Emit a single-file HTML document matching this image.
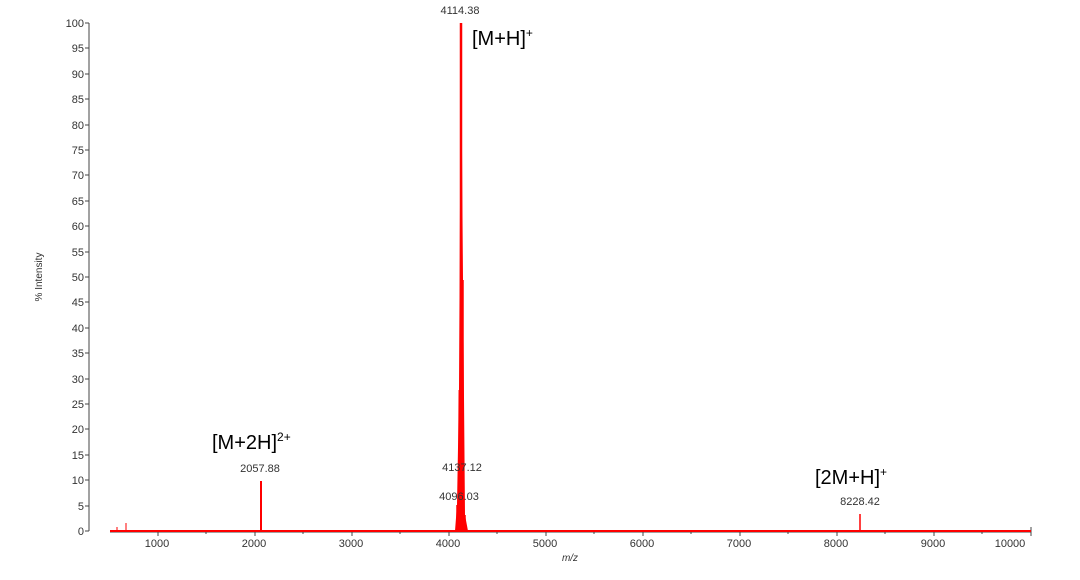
<!DOCTYPE html>
<html><head><meta charset="utf-8"><style>
body{margin:0;background:#fff;}
svg text{font-family:"Liberation Sans",sans-serif;}
</style></head><body>
<svg width="1080" height="575" xmlns="http://www.w3.org/2000/svg">
<g font-size="11" fill="#333" text-anchor="end">
<line x1="89" y1="23" x2="89" y2="531" stroke="#444"/>
<text x="84" y="535">0</text><text x="84" y="510">5</text><text x="84" y="484">10</text><text x="84" y="459">15</text><text x="84" y="433">20</text><text x="84" y="408">25</text><text x="84" y="383">30</text><text x="84" y="357">35</text><text x="84" y="332">40</text><text x="84" y="306">45</text><text x="84" y="281">50</text><text x="84" y="256">55</text><text x="84" y="230">60</text><text x="84" y="205">65</text><text x="84" y="179">70</text><text x="84" y="154">75</text><text x="84" y="129">80</text><text x="84" y="103">85</text><text x="84" y="78">90</text><text x="84" y="52">95</text><text x="84" y="27">100</text>
</g>
<g stroke="#444">
<line x1="85" y1="531" x2="89" y2="531"/><line x1="85" y1="506" x2="89" y2="506"/><line x1="85" y1="480" x2="89" y2="480"/><line x1="85" y1="455" x2="89" y2="455"/><line x1="85" y1="429" x2="89" y2="429"/><line x1="85" y1="404" x2="89" y2="404"/><line x1="85" y1="379" x2="89" y2="379"/><line x1="85" y1="353" x2="89" y2="353"/><line x1="85" y1="328" x2="89" y2="328"/><line x1="85" y1="302" x2="89" y2="302"/><line x1="85" y1="277" x2="89" y2="277"/><line x1="85" y1="252" x2="89" y2="252"/><line x1="85" y1="226" x2="89" y2="226"/><line x1="85" y1="201" x2="89" y2="201"/><line x1="85" y1="175" x2="89" y2="175"/><line x1="85" y1="150" x2="89" y2="150"/><line x1="85" y1="125" x2="89" y2="125"/><line x1="85" y1="99" x2="89" y2="99"/><line x1="85" y1="74" x2="89" y2="74"/><line x1="85" y1="48" x2="89" y2="48"/><line x1="85" y1="23" x2="89" y2="23"/>
<line x1="110" y1="532" x2="1031" y2="532"/><line x1="1031" y1="527" x2="1031" y2="536"/>
<line x1="158" y1="532" x2="158" y2="536"/><line x1="255" y1="532" x2="255" y2="536"/><line x1="352" y1="532" x2="352" y2="536"/><line x1="449" y1="532" x2="449" y2="536"/><line x1="546" y1="532" x2="546" y2="536"/><line x1="643" y1="532" x2="643" y2="536"/><line x1="740" y1="532" x2="740" y2="536"/><line x1="837" y1="532" x2="837" y2="536"/><line x1="934" y1="532" x2="934" y2="536"/>
<line x1="206" y1="532" x2="206" y2="534"/><line x1="303" y1="532" x2="303" y2="534"/><line x1="400" y1="532" x2="400" y2="534"/><line x1="497" y1="532" x2="497" y2="534"/><line x1="594" y1="532" x2="594" y2="534"/><line x1="691" y1="532" x2="691" y2="534"/><line x1="788" y1="532" x2="788" y2="534"/><line x1="885" y1="532" x2="885" y2="534"/><line x1="982" y1="532" x2="982" y2="534"/>
</g>
<g font-size="11" fill="#333" text-anchor="middle">
<text x="157" y="547">1000</text><text x="254" y="547">2000</text><text x="351" y="547">3000</text><text x="448" y="547">4000</text><text x="545" y="547">5000</text><text x="642" y="547">6000</text><text x="739" y="547">7000</text><text x="836" y="547">8000</text><text x="933" y="547">9000</text><text x="1010" y="547">10000</text>
<text x="570" y="561" font-style="italic" font-size="10">m/z</text>
</g>
<text transform="translate(42,277) rotate(-90)" font-size="10" fill="#333" text-anchor="middle">% Intensity</text>
<g stroke="#f00" fill="none">
<line x1="110" y1="531" x2="1031" y2="531" stroke-width="2"/>
<line x1="126" y1="531" x2="126" y2="523"/><line x1="117" y1="531" x2="117" y2="527"/>
<line x1="261" y1="531" x2="261" y2="481" stroke-width="2"/>
<line x1="461" y1="531" x2="461" y2="23" stroke-width="2.5"/>
<line x1="459" y1="531" x2="459" y2="390" stroke-width="1.5" stroke="#f66"/>
<line x1="463" y1="531" x2="463" y2="280" stroke-width="1.5"/>
<line x1="457" y1="531" x2="457" y2="505" stroke-width="1.5"/>
<line x1="465" y1="531" x2="465" y2="515" stroke-width="1.5"/>
<line x1="860" y1="531" x2="860" y2="514" stroke-width="1.5"/>
</g>
<path d="M455 531 L457 505 L459 390 L461 23 L463 280 L465 515 L468 531Z" fill="#f00"/>
<g font-size="11" fill="#333" text-anchor="middle">
<text x="460" y="14">4114.38</text>
<text x="260" y="472">2057.88</text>
<text x="462" y="471">4137.12</text>
<text x="459" y="500">4096.03</text>
<text x="860" y="505">8228.42</text>
</g>
<g font-size="20" fill="#000">
<text x="472" y="45">[M+H]<tspan font-size="12" dy="-8">+</tspan></text>
<text x="212" y="449">[M+2H]<tspan font-size="12" dy="-8">2+</tspan></text>
<text x="815" y="484">[2M+H]<tspan font-size="12" dy="-8">+</tspan></text>
</g>
</svg>
</body></html>
